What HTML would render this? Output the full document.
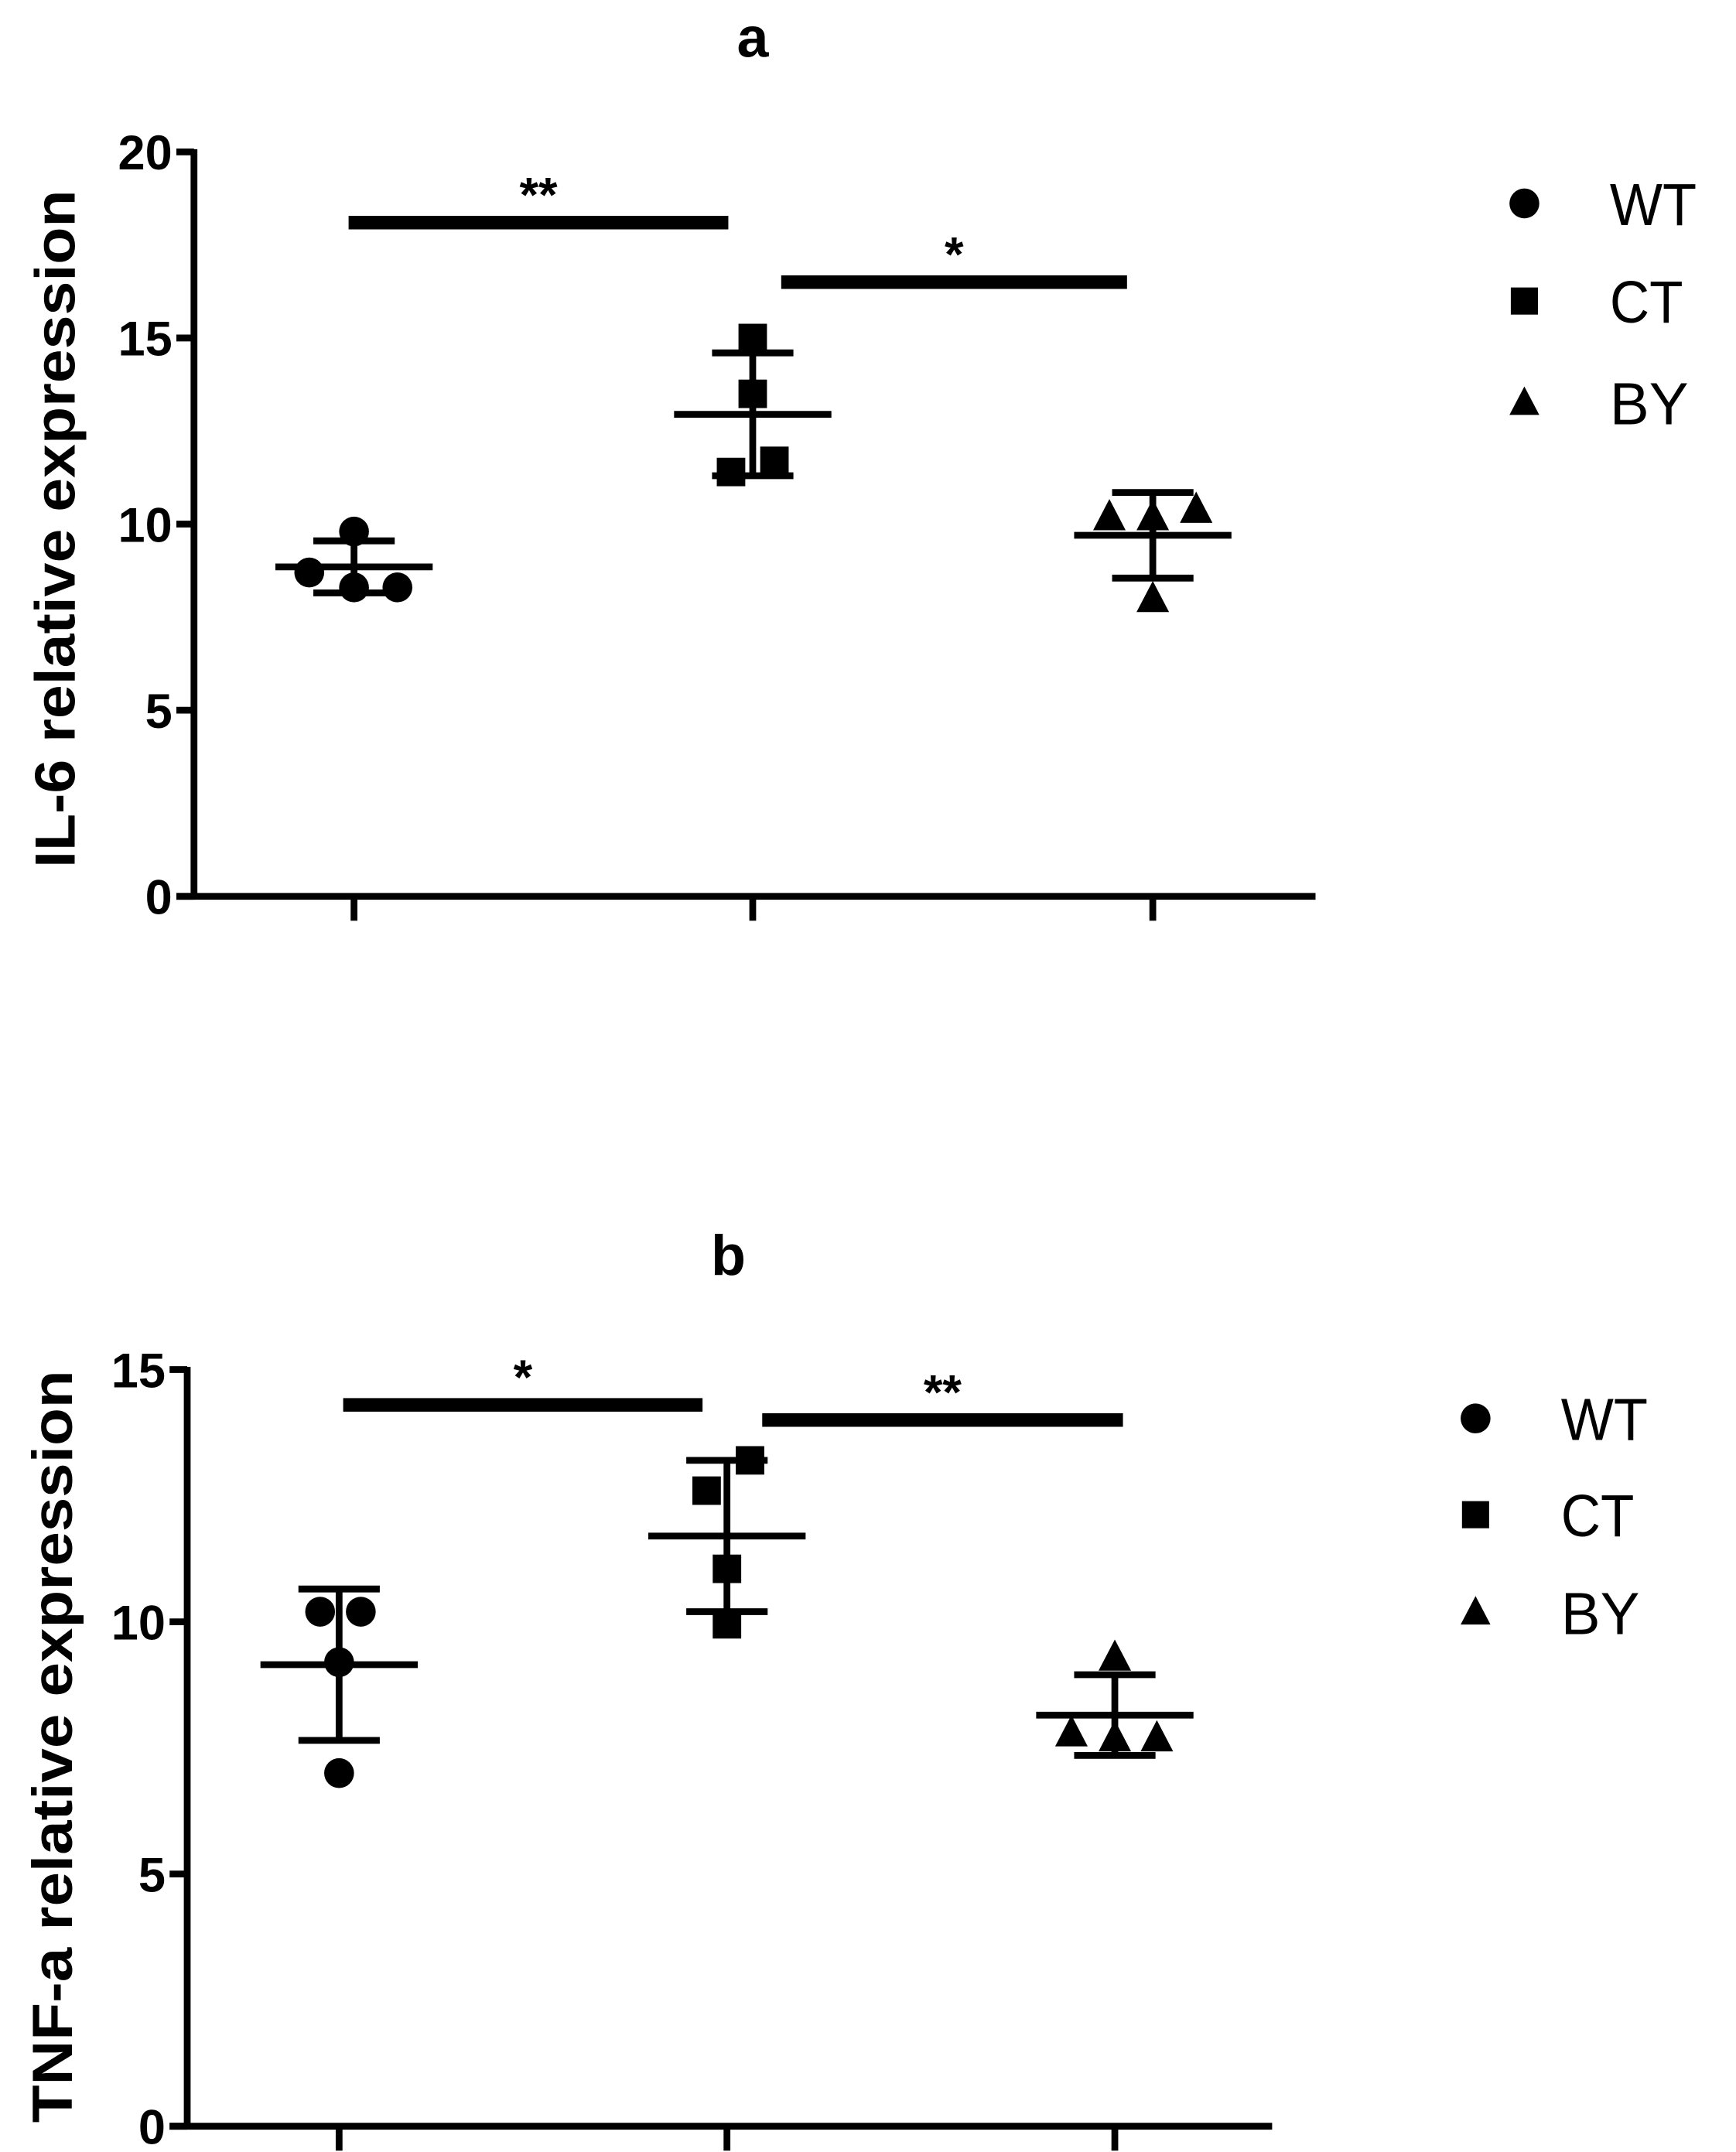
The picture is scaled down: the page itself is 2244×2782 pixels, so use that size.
<!DOCTYPE html>
<html><head><meta charset="utf-8"><style>
html,body{margin:0;padding:0;background:#fff;}
svg{display:block;}
text{font-family:"Liberation Sans",Arial,sans-serif;fill:#000;}
</style></head><body>
<svg id="chart" width="2244" height="2782" viewBox="0 0 1280 1587" xmlns="http://www.w3.org/2000/svg"></svg>
<script>
const categories = ["WT","CT","BY"];
const ticksA = [0,5,10,15,20];
const ticksB = [0,5,10,15];
const wtA = [9.8,8.7,8.3,8.3];
const ctA = [15.0,13.5,11.4,11.7];
const byA = [10.2,10.2,10.4,8.0];
const meanA = [8.85,12.95,9.7];
const sdA = [0.7,1.65,1.15];
const wtB = [10.2,10.2,9.2,7.0];
const ctB = [13.2,12.6,11.05,9.95];
const byB = [9.3,7.8,7.7,7.7];
const meanB = [9.15,11.7,8.15];
const sdB = [1.5,1.5,0.8];
const sigA = [{from:0,to:1,label:"**",value:18.1},{from:1,to:2,label:"*",value:16.5}];
const sigB = [{from:0,to:1,label:"*",value:14.3},{from:1,to:2,label:"**",value:14.0}];

const NS="http://www.w3.org/2000/svg";
const svg=document.getElementById('chart');
function mk(tag,attrs,parent){const e=document.createElementNS(NS,tag);for(const k in attrs)e.setAttribute(k,attrs[k]);(parent||svg).appendChild(e);return e;}
const legW={WT:64,CT:54,BY:58};

function panel(cfg){
  const g=mk('g',{});
  
  
  const y=v=>cfg.y0-(v/cfg.ymax)*(cfg.y0-cfg.yTop);
  const x=i=>cfg.xs[i];
  const t=mk('text',{x:cfg.titleX,y:cfg.titleY,'font-size':42,'font-weight':'bold','text-anchor':'middle'},g);
  t.textContent=cfg.title;
  
  
  const ya=mk('line',{x1:cfg.ax,y1:cfg.yTop-2,x2:cfg.ax,y2:cfg.y0+2,stroke:'#000','stroke-width':5},g);
  
  
  const xa=mk('line',{x1:cfg.ax-13,y1:cfg.y0,x2:cfg.xEnd,y2:cfg.y0,stroke:'#000','stroke-width':5},g);
  
  
  cfg.ticks.forEach(v=>{
    mk('line',{x1:cfg.ax-13,y1:y(v),x2:cfg.ax,y2:y(v),stroke:'#000','stroke-width':5},g);
    const tl=mk('text',{x:cfg.ax-16,y:y(v)+13,'font-size':36,'font-weight':'bold','text-anchor':'end'},g);
    tl.textContent=v;
    
    
  });
  categories.forEach((c,i)=>{
    mk('line',{x1:x(i),y1:cfg.y0,x2:x(i),y2:cfg.y0+18,stroke:'#000','stroke-width':5},g);
  });
  const yl=mk('text',{x:0,y:0,'font-size':42,'font-weight':'bold','text-anchor':'middle',textLength:cfg.ylabLen,lengthAdjust:'spacingAndGlyphs',transform:`translate(${cfg.ylabX},${cfg.ylabY}) rotate(-90)`},g);
  yl.textContent=cfg.ylabel;
  
  
  categories.forEach((c,i)=>{
    const m=cfg.mean[i],s=cfg.sd[i];
    const eg=mk('g',{stroke:'#000','stroke-width':5},g);
    
    
    mk('line',{x1:x(i),y1:y(m+s),x2:x(i),y2:y(m-s)},eg);
    mk('line',{x1:x(i)-58,y1:y(m),x2:x(i)+58,y2:y(m)},eg);
    mk('line',{x1:x(i)-30,y1:y(m+s),x2:x(i)+30,y2:y(m+s)},eg);
    mk('line',{x1:x(i)-30,y1:y(m-s),x2:x(i)+30,y2:y(m-s)},eg);
  });
  const offs=cfg.offs;
  cfg.series.forEach((arr,si)=>{
    arr.forEach((v,j)=>{
      const px=x(si)+offs[si][j],py=y(v);
      let e;
      if(si===0) e=mk('circle',{cx:px,cy:py,r:11},g);
      else if(si===1) e=mk('rect',{x:px-10.5,y:py-10.5,width:21,height:21},g);
      else e=mk('polygon',{points:`${px},${py-13} ${px-12},${py+10} ${px+12},${py+10}`},g);
      
      
    });
  });
  cfg.sig.forEach((s,k)=>{
    const b=mk('rect',{x:cfg.sigX[k][0],y:y(s.value)-5,width:cfg.sigX[k][1]-cfg.sigX[k][0],height:10},g);
    
    
    const st=mk('text',{x:(cfg.sigX[k][0]+cfg.sigX[k][1])/2,y:y(s.value)-8,'font-size':36,'font-weight':'bold','text-anchor':'middle'},g);
    st.textContent=s.label;
    
    
  });
  categories.forEach((c,i)=>{
    const ly=cfg.legY[i],lx=cfg.legX;
    const lg=mk('g',{},g);
    
    
    if(i===0) mk('circle',{cx:lx,cy:ly,r:11},lg);
    else if(i===1) mk('rect',{x:lx-10,y:ly-10,width:20,height:20},lg);
    else mk('polygon',{points:`${lx},${ly-12} ${lx-11},${ly+9} ${lx+11},${ly+9}`},lg);
    const lt=mk('text',{x:lx+63,y:ly+16,'font-size':44,textLength:legW[c],lengthAdjust:'spacingAndGlyphs'},lg);
    lt.textContent=c;
  });
}

panel({id:'panel-a',title:'a',titleX:555,titleY:42,ax:143,yTop:112,y0:661,ymax:20,xEnd:970,xs:[261,555,850],
  ticks:ticksA,ylabel:'IL-6 relative expression',ylabX:55,ylabY:390,ylabLen:500,mean:meanA,sd:sdA,series:[wtA,ctA,byA],
  offs:[[0,-33,0,32],[0,0,-16,16],[-32,0,32,0]],sig:sigA,sigX:[[257,537],[576,831]],legX:1124,legY:[150,222,297]});
panel({id:'panel-b',title:'b',titleX:537,titleY:940,ax:138,yTop:1010,y0:1568,ymax:15,xEnd:938,xs:[250,536,822],
  ticks:ticksB,ylabel:'TNF-a relative expression',ylabX:53,ylabY:1288,ylabLen:555,mean:meanB,sd:sdB,series:[wtB,ctB,byB],
  offs:[[-14,16,0,0],[17,-15,0,0],[0,-32,0,31]],sig:sigB,sigX:[[253,518],[562,828]],legX:1088,legY:[1046,1117,1189]});
</script>
</body></html>
